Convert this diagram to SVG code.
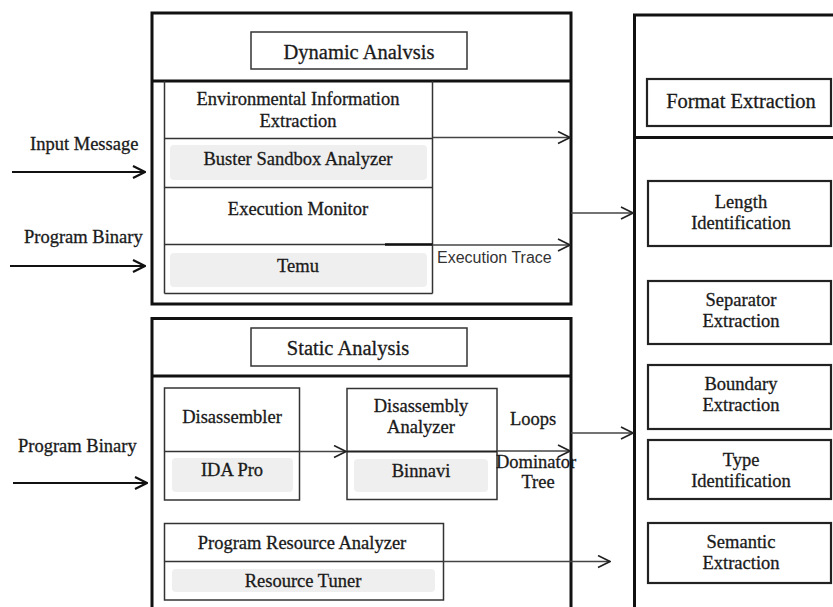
<svg xmlns="http://www.w3.org/2000/svg" width="833" height="607" viewBox="0 0 833 607">
<defs>
<marker id="chev" viewBox="0 0 14 14" refX="13" refY="7" markerWidth="14" markerHeight="14" markerUnits="userSpaceOnUse" orient="auto">
<path d="M1,1 L13,7 L1,13" fill="none" stroke="#222" stroke-width="1.6"/>
</marker>
<marker id="chevb" viewBox="0 0 14 14" refX="13" refY="7" markerWidth="14" markerHeight="14" markerUnits="userSpaceOnUse" orient="auto">
<path d="M1,1 L13,7 L1,13" fill="none" stroke="#111" stroke-width="2.2"/>
</marker>
</defs>
<style>
.outer{fill:none;stroke:#111;stroke-width:3}
.div{stroke:#111;stroke-width:3}
.title{fill:#fff;stroke:#333;stroke-width:1.5}
.box{fill:none;stroke:#333;stroke-width:1.5}
.rbox{fill:#fff;stroke:#222;stroke-width:2.2}
.ln{stroke:#333;stroke-width:1.5}
.shade{fill:#efefef}
text{font-family:"Liberation Serif","Times New Roman",serif;fill:#1a1a1a;stroke:#1a1a1a;stroke-width:0.3}
.t{font-size:18.5px;text-anchor:middle}
.tt{font-size:20.5px;text-anchor:middle}
.lbl{font-size:18.5px}
.sans{font-family:"Liberation Sans",Arial,sans-serif;font-size:16px;fill:#333;stroke:none}
.arr{stroke:#444;stroke-width:1.4;fill:none;marker-end:url(#chev)}
.arrb{stroke:#111;stroke-width:2.2;fill:none;marker-end:url(#chevb)}
</style>
<rect width="833" height="607" fill="#fff"/>

<g id="dynamic">
<rect class="outer" x="152" y="13" width="419" height="291"/>
<line class="div" x1="152" y1="81" x2="571" y2="81"/>
<rect class="title" x="251" y="32" width="216" height="37"/>
<text class="tt" x="359" y="59">Dynamic Analvsis</text>
</g>

<g id="env-info">
<rect class="shade" x="170" y="145" width="257" height="35" rx="4"/>
<line class="ln" x1="164.5" y1="81" x2="164.5" y2="293.5"/>
<line class="ln" x1="432.5" y1="81" x2="432.5" y2="293.5"/>
<line class="ln" x1="164.5" y1="138.5" x2="432.5" y2="138.5"/>
<line class="ln" x1="164.5" y1="187.5" x2="432.5" y2="187.5" stroke-width="2"/>
<text class="t" x="298" y="105">Environmental Information</text>
<text class="t" x="298" y="127">Extraction</text>
<text class="t" x="298" y="165">Buster Sandbox Analyzer</text>
</g>

<g id="exec-monitor">
<rect class="shade" x="170" y="253" width="257" height="34" rx="4"/>
<line class="ln" x1="164.5" y1="244.5" x2="432.5" y2="244.5"/>
<line x1="385" y1="244.5" x2="432.5" y2="244.5" stroke="#111" stroke-width="2.6"/>
<line class="ln" x1="164.5" y1="293.5" x2="432.5" y2="293.5"/>
<text class="t" x="298" y="215">Execution Monitor</text>
<text class="t" x="298" y="272">Temu</text>
</g>

<g id="static">
<rect class="outer" x="152" y="318.5" width="419" height="300"/>
<line class="div" x1="152" y1="376" x2="571" y2="376"/>
<rect class="title" x="251" y="328" width="216" height="38"/>
<text class="tt" x="348" y="355">Static Analysis</text>
</g>

<g id="disassembler">
<rect class="shade" x="172" y="458" width="121" height="34" rx="4"/>
<rect class="box" x="164.5" y="388" width="135" height="112"/>
<line class="ln" x1="164.5" y1="451.5" x2="299.5" y2="451.5"/>
<text class="t" x="232" y="423">Disassembler</text>
<text class="t" x="232" y="476">IDA Pro</text>
</g>

<g id="disassembly-analyzer">
<rect class="shade" x="354" y="459" width="134" height="33" rx="4"/>
<rect class="box" x="347" y="388.5" width="150" height="111"/>
<line x1="347" y1="451.5" x2="497" y2="451.5" stroke="#222" stroke-width="2"/>
<text class="t" x="421" y="412">Disassembly</text>
<text class="t" x="421" y="433">Analyzer</text>
<text class="t" x="421" y="477">Binnavi</text>
</g>

<g id="resource-analyzer">
<rect class="shade" x="172" y="569" width="263" height="23" rx="4"/>
<rect class="box" x="164.5" y="523.5" width="279" height="76.5"/>
<line class="ln" x1="164.5" y1="561.5" x2="443.5" y2="561.5"/>
<text class="t" x="302" y="549">Program Resource Analyzer</text>
<text class="t" x="303" y="587">Resource Tuner</text>
</g>

<g id="format">
<rect class="outer" x="634.5" y="15" width="260" height="640"/>
<line class="div" x1="634.5" y1="137.5" x2="833" y2="137.5"/>
<rect class="rbox" x="647" y="79" width="184" height="47"/>
<text class="tt" x="741" y="108">Format Extraction</text>
</g>

<g id="length">
<rect class="rbox" x="648" y="181" width="183" height="65"/>
<text class="t" x="741" y="208">Length</text>
<text class="t" x="741" y="229">Identification</text>
</g>

<g id="separator">
<rect class="rbox" x="648" y="281" width="183" height="63"/>
<text class="t" x="741" y="306">Separator</text>
<text class="t" x="741" y="327">Extraction</text>
</g>

<g id="boundary">
<rect class="rbox" x="648" y="365" width="183" height="64"/>
<text class="t" x="741" y="390">Boundary</text>
<text class="t" x="741" y="411">Extraction</text>
</g>

<g id="type">
<rect class="rbox" x="648" y="440" width="183" height="59"/>
<text class="t" x="741" y="466">Type</text>
<text class="t" x="741" y="487">Identification</text>
</g>

<g id="semantic">
<rect class="rbox" x="648" y="523" width="183" height="60"/>
<text class="t" x="741" y="548">Semantic</text>
<text class="t" x="741" y="569">Extraction</text>
</g>

<g id="connectors">
<line class="arrb" x1="12" y1="172" x2="145" y2="172"/>
<line class="arrb" x1="10" y1="266" x2="145" y2="266"/>
<line class="arrb" x1="13" y1="483" x2="147" y2="483"/>
<line class="arr" x1="432.5" y1="137.5" x2="570" y2="137.5"/>
<line class="arr" x1="432.5" y1="245" x2="570" y2="245"/>
<line class="arr" x1="571" y1="213" x2="633" y2="213"/>
<line class="arr" x1="299.5" y1="451.5" x2="346" y2="451.5"/>
<line class="arr" x1="497" y1="451" x2="570" y2="451"/>
<line class="arr" x1="571" y1="433" x2="633" y2="433"/>
<line class="arr" x1="443.5" y1="561.5" x2="610" y2="561.5"/>
<text class="lbl" x="30" y="150">Input Message</text>
<text class="lbl" x="24" y="243">Program Binary</text>
<text class="lbl" x="18" y="452">Program Binary</text>
<text class="sans" x="437" y="263">Execution Trace</text>
<text class="t" x="533" y="425">Loops</text>
<text class="t" x="536" y="468">Dominator</text>
<text class="t" x="538" y="488">Tree</text>
</g>
</svg>
